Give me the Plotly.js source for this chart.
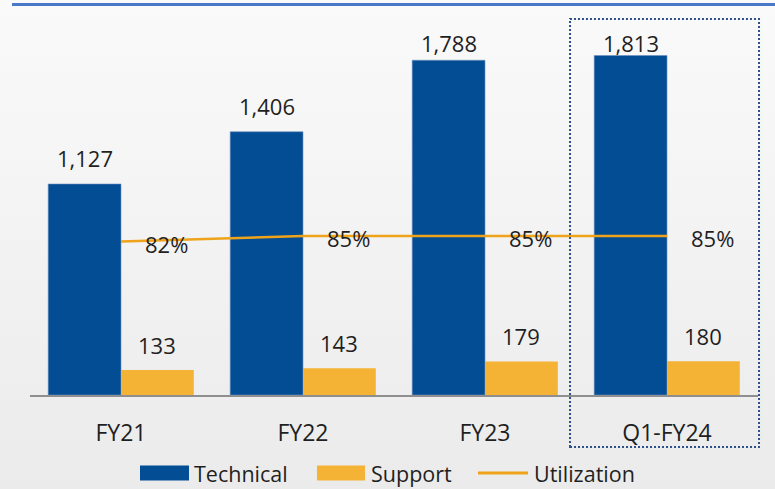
<!DOCTYPE html>
<html>
<head>
<meta charset="utf-8">
<script src="https://cdn.plot.ly/plotly-3.0.1.min.js"></script>
<style>
  html, body { margin: 0; padding: 0; }
  body {
    width: 775px;
    height: 489px;
    background: linear-gradient(#fafafa, #f1f1f1 60%, #ebebeb);
    overflow: hidden;
  }
  #chart { width: 775px; height: 489px; }
</style>
</head>
<body>
<div id="chart"></div>
<script>
// chart data
const categories = ["FY21", "FY22", "FY23", "Q1-FY24"];
const technical = [1127, 1406, 1788, 1813];
const support = [133, 143, 179, 180];
const utilization = [82, 85, 85, 85];
const seriesNames = ["Technical", "Support", "Utilization"];

const colors = {
  technical: "#034d94",
  support: "#f5b335",
  utilization: "#eea31a",
  text: "#1f1f1f",
};

const fmt = (v) => v.toLocaleString("en-US");

// bars
const techTrace = {
  type: "bar",
  name: seriesNames[0],
  x: categories,
  y: technical,
  marker: { color: colors.technical, line: { color: "#6f90bd", width: 0.6 } },
  hoverinfo: "skip",
};
const supportTrace = {
  type: "bar",
  name: seriesNames[1],
  x: categories,
  y: support,
  marker: { color: colors.support },
  hoverinfo: "skip",
};
// utilization line on its own axis
const utilTrace = {
  type: "scatter",
  mode: "lines",
  name: seriesNames[2],
  x: categories,
  y: utilization,
  yaxis: "y2",
  line: { color: colors.utilization, width: 2.5 },
  hoverinfo: "skip",
};

// value labels
const labelFont = { family: "Open Sans", size: 22, color: colors.text };
const halfBar = 36.4; // px offset from category centre to each bar centre
const annotations = [];
technical.forEach((v, i) => {
  annotations.push({
    x: categories[i], y: Math.min(v, 1741), xref: "x", yref: "y",
    text: fmt(v), showarrow: false, xshift: -halfBar, yshift: 26,
    xanchor: "center", yanchor: "middle", font: labelFont,
  });
});
support.forEach((v, i) => {
  annotations.push({
    x: categories[i], y: v, xref: "x", yref: "y",
    text: fmt(v), showarrow: false, xshift: halfBar, yshift: 25,
    xanchor: "center", yanchor: "middle", font: labelFont,
  });
});
utilization.forEach((v, i) => {
  annotations.push({
    x: categories[i], y: v, xref: "x", yref: "y2",
    text: v + "%", showarrow: false, xshift: 45, yshift: -2,
    xanchor: "center", yanchor: "middle", font: labelFont,
  });
});

// hand-made legend (wide swatches like the original)
const legendY = -0.2;
const legendItems = [
  { x0: 0.1511, x1: 0.2184, tx: 0.2225, kind: "rect", color: colors.technical },
  { x0: 0.3942, x1: 0.4602, tx: 0.4655, kind: "rect", color: colors.support },
  { x0: 0.6154, x1: 0.6841, tx: 0.6895, kind: "line", color: colors.utilization },
];
const shapes = [
  // blue rule across the top
  {
    type: "line", xref: "paper", yref: "paper",
    x0: -0.0247, x1: 1.03, y0: 1.0013, y1: 1.0013,
    line: { color: "#4a78c8", width: 3 },
  },
  // dotted highlight box round the latest quarter
  {
    type: "rect", xref: "paper", yref: "paper",
    x0: 0.7418, x1: 1.0014, y0: -0.1333, y1: 0.964,
    line: { color: "#2f4f8a", width: 2, dash: "2px,2px" },
    layer: "above",
  },
];
legendItems.forEach((it, i) => {
  if (it.kind === "rect") {
    shapes.push({
      type: "rect", xref: "paper", yref: "paper",
      x0: it.x0, x1: it.x1, y0: legendY - 0.019, y1: legendY + 0.019,
      fillcolor: it.color, line: { width: 0 },
    });
  } else {
    shapes.push({
      type: "line", xref: "paper", yref: "paper",
      x0: it.x0, x1: it.x1, y0: legendY, y1: legendY,
      line: { color: it.color, width: 3 },
    });
  }
  annotations.push({
    x: it.tx, y: legendY, xref: "paper", yref: "paper",
    text: seriesNames[i], showarrow: false,
    xanchor: "left", yanchor: "middle",
    font: { family: "Open Sans", size: 21.5, color: colors.text },
  });
});

const layout = {
  width: 775,
  height: 489,
  margin: { l: 30, r: 17, t: 5, b: 94 },
  paper_bgcolor: "rgba(0,0,0,0)",
  plot_bgcolor: "rgba(0,0,0,0)",
  font: { family: "Open Sans", size: 22, color: colors.text },
  barmode: "group",
  bargap: 0.2,
  bargroupgap: 0,
  showlegend: false,
  xaxis: {
    type: "category",
    showline: true,
    linecolor: "#8f8f8f",
    linewidth: 1.5,
    ticks: "",
    showgrid: false,
    zeroline: false,
    ticklabelstandoff: 17,
    tickfont: { family: "Open Sans", size: 23, color: colors.text },
  },
  yaxis: { range: [0, 2083], visible: false, fixedrange: true },
  yaxis2: {
    range: [0, 208.5],
    overlaying: "y",
    side: "right",
    visible: false,
  },
  shapes: shapes,
  annotations: annotations,
};

Plotly.newPlot("chart", [techTrace, supportTrace, utilTrace], layout, {
  displayModeBar: false,
  staticPlot: true,
});
</script>
</body>
</html>
